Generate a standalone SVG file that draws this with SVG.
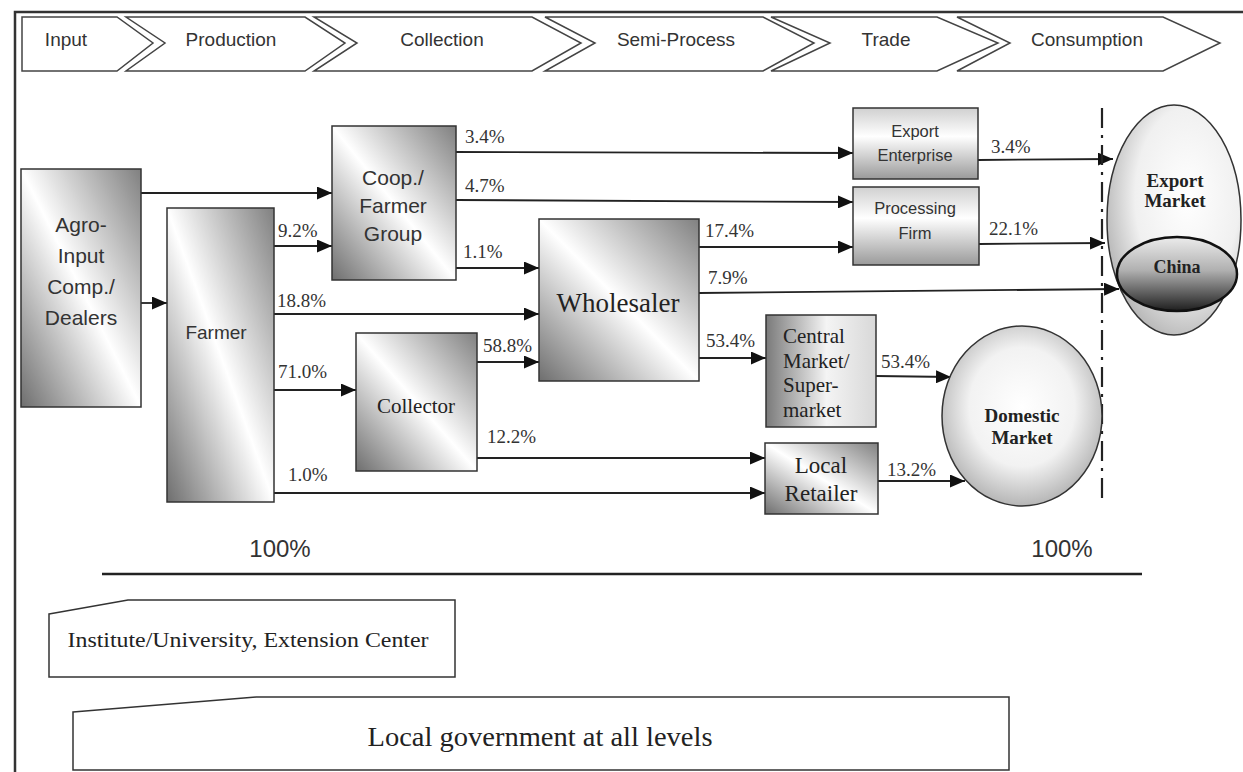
<svg xmlns="http://www.w3.org/2000/svg" width="1243" height="772" viewBox="0 0 1243 772">
<style>
.bg{fill:#fff}
.frame{fill:none;stroke:#333;stroke-width:2.5}
.chev{fill:#fff;stroke:#444;stroke-width:1.5}
.hdr{font-family:"Liberation Sans",Arial,sans-serif;font-size:19px;fill:#333;text-anchor:middle}
.box{stroke:#333;stroke-width:1.5}
.sans{font-family:"Liberation Sans",Arial,sans-serif;fill:#333;text-anchor:middle}
.serif{font-family:"Liberation Serif","Times New Roman",serif;fill:#222;text-anchor:middle}
.bold{font-weight:bold}
.lbl{font-family:"Liberation Serif","Times New Roman",serif;font-size:19px;fill:#333}
.conn{fill:none;stroke:#222;stroke-width:1.8;marker-end:url(#ah)}
.dash{fill:none;stroke:#222;stroke-width:2.2;stroke-dasharray:20 7 3 7}
.rule{stroke:#222;stroke-width:2.5}
.pane{fill:#fff;stroke:#333;stroke-width:1.5}
</style>
<defs>
<marker id="ah" markerUnits="userSpaceOnUse" markerWidth="15" markerHeight="13" refX="15" refY="6.5" orient="auto">
<path d="M0,0 L15,6.5 L0,13 Z" fill="#111"/>
</marker>
<linearGradient id="gDiag" x1="0" y1="1" x2="1" y2="0">
<stop offset="0" stop-color="#6e6e6e"/>
<stop offset="0.5" stop-color="#ffffff"/>
<stop offset="1" stop-color="#808080"/>
</linearGradient>
<linearGradient id="gLeft" x1="0" y1="0.5" x2="1" y2="0.5">
<stop offset="0" stop-color="#7a7a7a"/>
<stop offset="0.55" stop-color="#f4f4f4"/>
<stop offset="1" stop-color="#d8d8d8"/>
</linearGradient>
<linearGradient id="gVert" x1="0" y1="0" x2="0" y2="1">
<stop offset="0" stop-color="#d0d0d0"/>
<stop offset="0.4" stop-color="#ffffff"/>
<stop offset="1" stop-color="#9a9a9a"/>
</linearGradient>
<radialGradient id="gExp" cx="0.6" cy="0.4" r="0.65">
<stop offset="0" stop-color="#ffffff"/>
<stop offset="0.6" stop-color="#f0f0f0"/>
<stop offset="1" stop-color="#b5b5b5"/>
</radialGradient>
<radialGradient id="gDom" cx="0.5" cy="0.45" r="0.6">
<stop offset="0" stop-color="#ffffff"/>
<stop offset="0.55" stop-color="#f2f2f2"/>
<stop offset="1" stop-color="#a8a8a8"/>
</radialGradient>
<linearGradient id="gChina" x1="0" y1="0" x2="0" y2="1">
<stop offset="0" stop-color="#ececec"/>
<stop offset="0.45" stop-color="#b0b0b0"/>
<stop offset="1" stop-color="#1e1e1e"/>
</linearGradient>
</defs>
<rect class="bg" x="0" y="0" width="1243" height="772"/>
<path class="frame" d="M15,772 V12 H1243"/>

<g id="stages">
<g id="stage-input"><path class="chev" d="M22,17 H117 L153,43 L117,71 H22 Z"/><text class="hdr" x="66" y="46">Input</text></g>
<g id="stage-production"><path class="chev" d="M126,17 H305 L345,43 L305,71 H126 L165,43 Z"/><text class="hdr" x="231" y="46">Production</text></g>
<g id="stage-collection"><path class="chev" d="M314,17 H532 L581,43 L532,71 H314 L357,43 Z"/><text class="hdr" x="442" y="46">Collection</text></g>
<g id="stage-semi"><path class="chev" d="M545,17 H763 L814,43 L763,71 H545 L595,43 Z"/><text class="hdr" x="676" y="46">Semi-Process</text></g>
<g id="stage-trade"><path class="chev" d="M771,17 H937 L998,43 L937,71 H771 L830,43 Z"/><text class="hdr" x="886" y="46">Trade</text></g>
<g id="stage-consumption"><path class="chev" d="M957,17 H1163 L1220,43 L1163,71 H957 L1010,43 Z"/><text class="hdr" x="1087" y="46">Consumption</text></g>
</g>

<g id="connectors">
<path class="conn" d="M141,193 H332"/>
<path class="conn" d="M141,303 H167"/>
<path class="conn" d="M274,246 H332"/>
<path class="conn" d="M274,314 H539"/>
<path class="conn" d="M274,390 H356"/>
<path class="conn" d="M274,493 H765"/>
<path class="conn" d="M456,152 L853,153"/>
<path class="conn" d="M456,200 L853,202"/>
<path class="conn" d="M456,268 H539"/>
<path class="conn" d="M477,362 H539"/>
<path class="conn" d="M477,458 H765"/>
<path class="conn" d="M699,247 H853"/>
<path class="conn" d="M699,293 L1119,289"/>
<path class="conn" d="M699,358 H766"/>
<path class="conn" d="M978,160 L1113,159"/>
<path class="conn" d="M979,244 L1105,243"/>
<path class="conn" d="M876,376 L951,377"/>
<path class="conn" d="M878,481 H965"/>
<path class="dash" d="M1102,108 V503"/>
<line class="rule" x1="102" y1="574" x2="1142" y2="574"/>
</g>

<g id="labels">
<text class="lbl" x="278" y="237">9.2%</text>
<text class="lbl" x="277" y="307">18.8%</text>
<text class="lbl" x="278" y="378">71.0%</text>
<text class="lbl" x="288" y="481">1.0%</text>
<text class="lbl" x="465" y="143">3.4%</text>
<text class="lbl" x="465" y="192">4.7%</text>
<text class="lbl" x="463" y="258">1.1%</text>
<text class="lbl" x="483" y="352">58.8%</text>
<text class="lbl" x="487" y="443">12.2%</text>
<text class="lbl" x="705" y="237">17.4%</text>
<text class="lbl" x="708" y="284">7.9%</text>
<text class="lbl" x="706" y="347">53.4%</text>
<text class="lbl" x="991" y="153">3.4%</text>
<text class="lbl" x="989" y="235">22.1%</text>
<text class="lbl" x="881" y="368">53.4%</text>
<text class="lbl" x="887" y="476">13.2%</text>
<text class="sans" x="280" y="557" font-size="24">100%</text>
<text class="sans" x="1062" y="557" font-size="24">100%</text>
</g>

<g id="agro">
<rect class="box" x="21" y="169" width="120" height="238" fill="url(#gDiag)"/>
<text class="sans" font-size="21"><tspan x="81" y="232">Agro-</tspan><tspan x="81" y="263">Input</tspan><tspan x="81" y="294">Comp./</tspan><tspan x="81" y="325">Dealers</tspan></text>
</g>
<g id="farmer">
<rect class="box" x="167" y="208" width="107" height="294" fill="url(#gDiag)"/>
<text class="sans" font-size="19" x="216" y="339">Farmer</text>
</g>
<g id="coop">
<rect class="box" x="332" y="126" width="124" height="154" fill="url(#gDiag)"/>
<text class="sans" font-size="21"><tspan x="393" y="185">Coop./</tspan><tspan x="393" y="213">Farmer</tspan><tspan x="393" y="241">Group</tspan></text>
</g>
<g id="collector">
<rect class="box" x="356" y="333" width="121" height="138" fill="url(#gDiag)"/>
<text class="serif" font-size="21" x="416" y="413">Collector</text>
</g>
<g id="wholesaler">
<rect class="box" x="539" y="219" width="160" height="162" fill="url(#gDiag)"/>
<text class="serif" font-size="27" x="618" y="312">Wholesaler</text>
</g>
<g id="export-enterprise">
<rect class="box" x="853" y="108" width="125" height="71" fill="url(#gVert)"/>
<text class="sans" font-size="16.5"><tspan x="915" y="137">Export</tspan><tspan x="915" y="161">Enterprise</tspan></text>
</g>
<g id="processing-firm">
<rect class="box" x="853" y="187" width="126" height="78" fill="url(#gVert)"/>
<text class="sans" font-size="16.5"><tspan x="915" y="214">Processing</tspan><tspan x="915" y="239">Firm</tspan></text>
</g>
<g id="central-market">
<rect class="box" x="766" y="315" width="110" height="112" fill="url(#gLeft)"/>
<text class="serif" font-size="21" style="text-anchor:start"><tspan x="783" y="343">Central</tspan><tspan x="783" y="368">Market/</tspan><tspan x="783" y="392">Super-</tspan><tspan x="783" y="417">market</tspan></text>
</g>
<g id="local-retailer">
<rect class="box" x="765" y="443" width="113" height="71" fill="url(#gDiag)"/>
<text class="serif" font-size="23"><tspan x="821" y="473">Local</tspan><tspan x="821" y="501">Retailer</tspan></text>
</g>
<g id="domestic-market">
<ellipse class="box" cx="1022" cy="416" rx="80" ry="90" fill="url(#gDom)"/>
<text class="serif bold" font-size="19"><tspan x="1022" y="422">Domestic</tspan><tspan x="1022" y="444">Market</tspan></text>
</g>
<g id="export-market">
<ellipse class="box" cx="1174" cy="220" rx="67" ry="115" fill="url(#gExp)"/>
<text class="serif bold" font-size="19"><tspan x="1175" y="187">Export</tspan><tspan x="1175" y="207">Market</tspan></text>
</g>
<g id="china">
<ellipse cx="1177" cy="274" rx="60" ry="37" fill="url(#gChina)" stroke="#111" stroke-width="2.5"/>
<text class="serif bold" font-size="18" x="1177" y="273">China</text>
</g>
<g id="institute">
<path class="pane" d="M49,614 L128,600 H455 V677 H49 Z"/>
<text class="serif" font-size="21" x="248" y="647" textLength="361" lengthAdjust="spacingAndGlyphs">Institute/University, Extension Center</text>
</g>
<g id="government">
<path class="pane" d="M73,712 L256,697 H1009 V770 H73 Z"/>
<text class="serif" font-size="27" x="540" y="746" textLength="345" lengthAdjust="spacingAndGlyphs">Local government at all levels</text>
</g>
</svg>
